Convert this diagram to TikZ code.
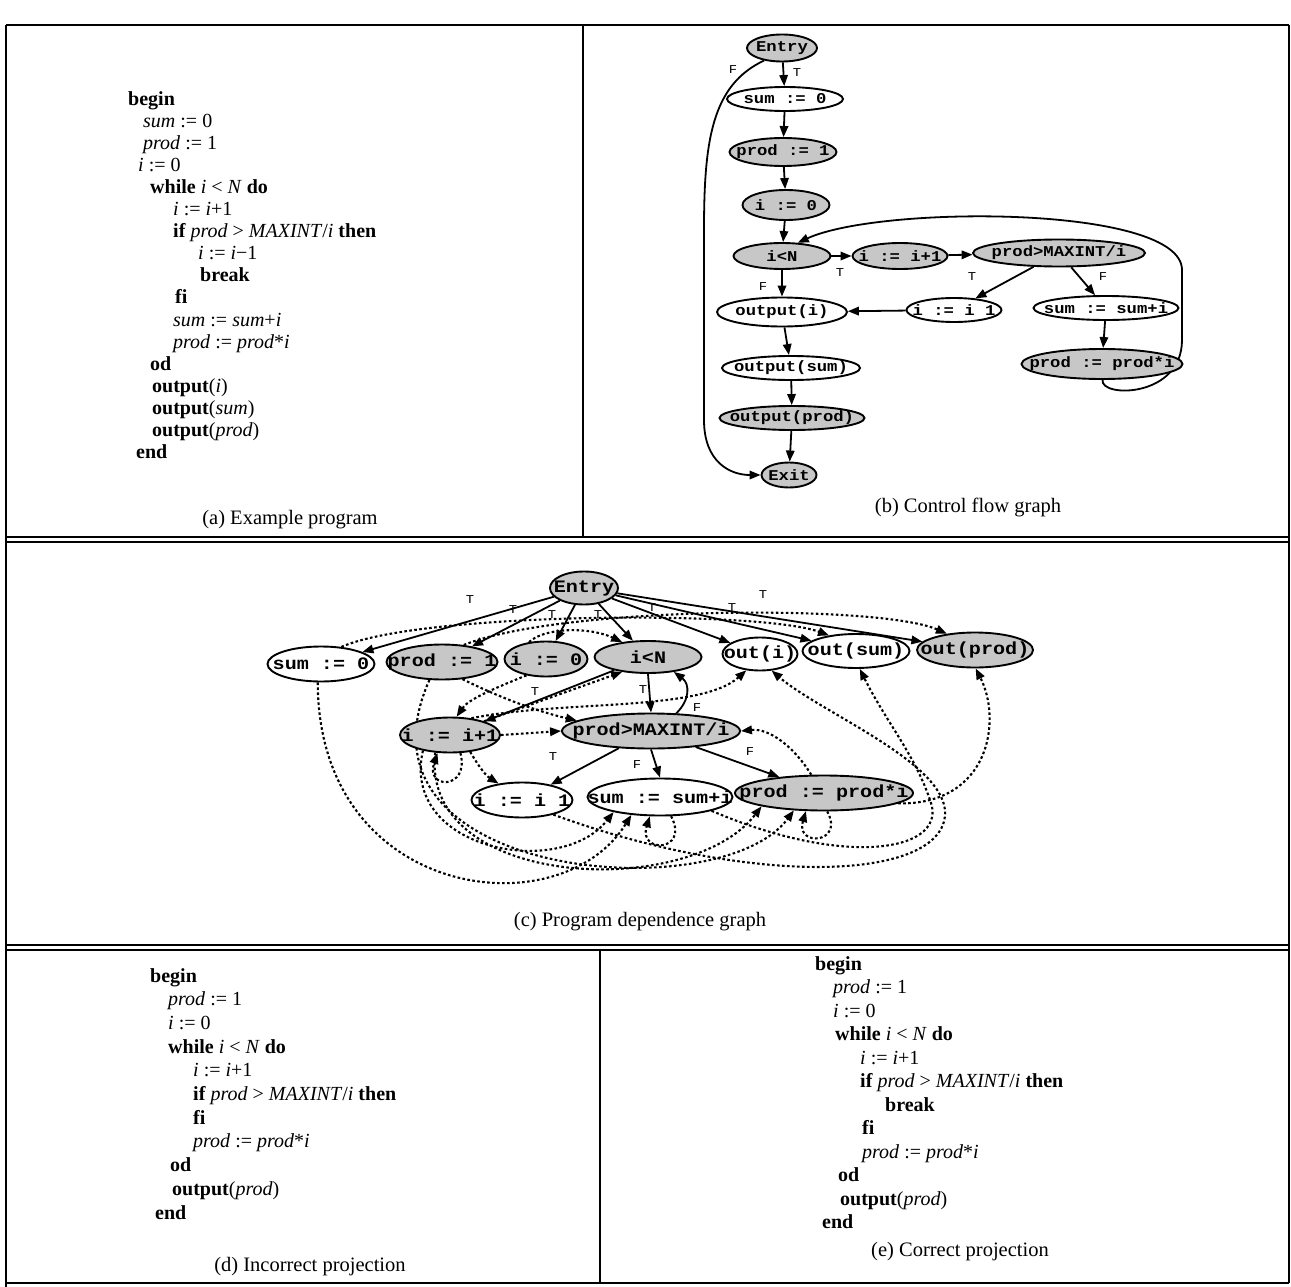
\documentclass[tikz,border=0pt]{standalone}
\usepackage{fontspec}
\setmainfont{Liberation Serif}
\newfontfamily\monof[FakeStretch=1.15]{Liberation Mono}
\usetikzlibrary{arrows.meta,shapes.geometric}
\pgfdeclarelayer{edges}
\pgfsetlayers{edges,main}
\newcommand\zw[1]{\makebox[0pt]{#1}}
\newcommand\kw[1]{\textbf{#1}}
\newcommand\va[1]{\textit{#1}}
\tikzset{
  nd/.style={ellipse, draw, line width=1.9pt, inner sep=0pt},
  shd/.style={nd, fill=black!22},
  wht/.style={nd, fill=white},
  pdgn/.style={font=\monof\bfseries\fontsize{17.5}{17.5}\selectfont},
  cfgn/.style={font=\monof\bfseries\fontsize{15}{15}\selectfont},
  ctl/.style={line width=1.8pt, -{Triangle[length=11pt,width=8.5pt]}},
  dat/.style={line width=2.1pt, dash pattern=on 2.6pt off 2.4pt, -{Triangle[length=11pt,width=8.5pt]}},
  lab/.style={font=\monof\fontsize{12}{12}\selectfont, inner sep=0pt},
  codeblk/.style={anchor=north west, inner sep=0pt, align=left},
  captxt/.style={font=\fontsize{20.5}{22}\selectfont, inner sep=0pt},
  frm/.style={line width=1.4pt},
}
\begin{document}
\begin{tikzpicture}[x=1pt,y=-1pt]
\useasboundingbox (0,0) rectangle (1291,1287);
% frame
\draw[frm] (6,25) -- (1289,25);
\draw[frm] (6,25) -- (6,1287);
\draw[frm] (1289,25) -- (1289,1283);
\draw[frm] (583,25) -- (583,537);
\draw[frm] (6,537) -- (1289,537);
\draw[frm] (6,542) -- (1289,542);
\draw[frm] (6,945) -- (1289,945);
\draw[frm] (6,950) -- (1289,950);
\draw[frm] (600,950) -- (600,1283);
\draw[frm] (6,1283) -- (1289,1283);

% (a) program
\node[codeblk, font=\fontsize{20}{22.1}\selectfont] (pa) at (128,91) {%
\kw{begin}\\
\hspace*{15pt}\va{sum} := 0\\
\hspace*{15pt}\va{prod} := 1\\
\hspace*{10pt}\va{i} := 0\\
\hspace*{22pt}\kw{while} \va{i} {<} \va{N} \kw{do}\\
\hspace*{45pt}\va{i} := \va{i}+1\\
\hspace*{45pt}\kw{if} \va{prod} {>} \va{MAXINT}/\va{i} \kw{then}\\
\hspace*{70pt}\va{i} := \va{i}−1\\
\hspace*{72pt}\kw{break}\\
\hspace*{47pt}\kw{fi}\\
\hspace*{45pt}\va{sum} := \va{sum}+\va{i}\\
\hspace*{45pt}\va{prod} := \va{prod}*\va{i}\\
\hspace*{22pt}\kw{od}\\
\hspace*{24pt}\kw{output}(\va{i})\\
\hspace*{24pt}\kw{output}(\va{sum})\\
\hspace*{24pt}\kw{output}(\va{prod})\\
\hspace*{8pt}\kw{end}};
\node[captxt] (capa) at (290,520) {(a) Example program};

% (b) control flow graph
\node[shd,cfgn,minimum width=70pt,minimum height=27pt] (cE) at (782,48) {\zw{Entry}};
\node[wht,cfgn,minimum width=116pt,minimum height=24pt] (cs0) at (785,99) {\zw{sum := 0}};
\node[shd,cfgn,minimum width=107pt,minimum height=28pt] (cp1) at (783,152) {\zw{prod := 1}};
\node[shd,cfgn,minimum width=87pt,minimum height=30pt] (ci0) at (786,205) {\zw{i := 0}};
\node[shd,cfgn,minimum width=97pt,minimum height=26pt] (ciN) at (782,256) {\zw{i<N}};
\node[shd,cfgn,minimum width=95pt,minimum height=26pt] (ci1) at (900,256) {\zw{i := i+1}};
\node[shd,cfgn,minimum width=172pt,minimum height=27pt] (cpM) at (1059,253) {\zw{prod>MAXINT/i}};
\node[wht,cfgn,minimum width=130pt,minimum height=29pt] (coi) at (782,312) {\zw{output(i)}};
\node[wht,cfgn,minimum width=95pt,minimum height=24pt] (cim) at (954,310) {\zw{i := i 1}};
\node[wht,cfgn,minimum width=145pt,minimum height=24pt] (css) at (1106,308) {\zw{sum := sum+i}};
\node[shd,cfgn,minimum width=161pt,minimum height=30pt] (cpp) at (1102,364) {\zw{prod := prod*i}};
\node[wht,cfgn,minimum width=138pt,minimum height=24pt] (cos) at (791,368) {\zw{output(sum)}};
\node[shd,cfgn,minimum width=145pt,minimum height=24pt] (cop) at (792,418) {\zw{output(prod)}};
\node[shd,cfgn,minimum width=55pt,minimum height=25pt] (cX) at (789,475) {\zw{Exit}};
\node[lab] (cl1) at (797,73) {T};
\node[lab] (cl2) at (733,70) {F};
\node[lab] (cl3) at (840,273) {T};
\node[lab] (cl4) at (763,287) {F};
\node[lab] (cl5) at (972,277) {T};
\node[lab] (cl6) at (1103,277) {F};
\node[captxt] (capb) at (968,507) {(b) Control flow graph};

% (c) program dependence graph
\node[shd,pdgn,minimum width=68pt,minimum height=33pt] (pE) at (584,588) {\zw{Entry}};
\node[wht,pdgn,minimum width=107pt,minimum height=35pt] (s0) at (321,664) {\zw{sum := 0}};
\node[shd,pdgn,minimum width=111pt,minimum height=35pt] (p1) at (442,662) {\zw{prod := 1}};
\node[shd,pdgn,minimum width=83pt,minimum height=35pt] (i0) at (546,659) {\zw{i := 0}};
\node[shd,pdgn,minimum width=107pt,minimum height=32pt] (iN) at (648,657) {\zw{i<N}};
\node[wht,pdgn,minimum width=75pt,minimum height=33pt] (oi) at (760,654) {\zw{out(i)}};
\node[wht,pdgn,minimum width=107pt,minimum height=34pt] (os) at (856,651) {\zw{out(sum)}};
\node[shd,pdgn,minimum width=116pt,minimum height=35pt] (op) at (975,650) {\zw{out(prod)}};
\node[shd,pdgn,minimum width=100pt,minimum height=35pt] (i1) at (450,735) {\zw{i := i+1}};
\node[shd,pdgn,minimum width=178pt,minimum height=35pt] (pM) at (651,731) {\zw{prod>MAXINT/i}};
\node[wht,pdgn,minimum width=101pt,minimum height=35pt] (im) at (522,800) {\zw{i := i 1}};
\node[wht,pdgn,minimum width=145pt,minimum height=37pt] (ss) at (660,797) {\zw{sum := sum+i}};
\node[shd,pdgn,minimum width=178pt,minimum height=35pt] (pp) at (824,793) {\zw{prod := prod*i}};
\node[lab] (t1) at (470,600) {T};
\node[lab] (t2) at (513,610) {T};
\node[lab] (t3) at (552,615) {T};
\node[lab] (t4) at (598,615) {T};
\node[lab] (t5) at (652,608) {T};
\node[lab] (t6) at (732,608) {T};
\node[lab] (t7) at (763,595) {T};
\node[lab] (t8) at (535,692) {T};
\node[lab] (t9) at (643,690) {T};
\node[lab] (t10) at (697,708) {F};
\node[lab] (t11) at (553,757) {T};
\node[lab] (t12) at (637,765) {F};
\node[lab] (t13) at (750,752) {F};
\node[captxt] (capc) at (640,922) {(c) Program dependence graph};

% (d) incorrect projection
\node[codeblk, font=\fontsize{20}{23.7}\selectfont] (pd) at (150,968) {%
\kw{begin}\\
\hspace*{18pt}\va{prod} := 1\\
\hspace*{18pt}\va{i} := 0\\
\hspace*{18pt}\kw{while} \va{i} {<} \va{N} \kw{do}\\
\hspace*{43pt}\va{i} := \va{i}+1\\
\hspace*{43pt}\kw{if} \va{prod} {>} \va{MAXINT}/\va{i} \kw{then}\\
\hspace*{43pt}\kw{fi}\\
\hspace*{43pt}\va{prod} := \va{prod}*\va{i}\\
\hspace*{20pt}\kw{od}\\
\hspace*{22pt}\kw{output}(\va{prod})\\
\hspace*{5pt}\kw{end}};
\node[captxt] (capd) at (310,1267) {(d) Incorrect projection};

% (e) correct projection
\node[codeblk, font=\fontsize{20}{23.5}\selectfont] (pe) at (815,956) {%
\kw{begin}\\
\hspace*{18pt}\va{prod} := 1\\
\hspace*{18pt}\va{i} := 0\\
\hspace*{20pt}\kw{while} \va{i} {<} \va{N} \kw{do}\\
\hspace*{45pt}\va{i} := \va{i}+1\\
\hspace*{45pt}\kw{if} \va{prod} {>} \va{MAXINT}/\va{i} \kw{then}\\
\hspace*{70pt}\kw{break}\\
\hspace*{47pt}\kw{fi}\\
\hspace*{47pt}\va{prod} := \va{prod}*\va{i}\\
\hspace*{23pt}\kw{od}\\
\hspace*{25pt}\kw{output}(\va{prod})\\
\hspace*{7pt}\kw{end}};
\node[captxt] (cape) at (960,1252) {(e) Correct projection};

\begin{pgfonlayer}{edges}
% CFG edges
\draw[ctl] (cE) -- (cs0);
\draw[ctl] (cs0) -- (cp1);
\draw[ctl] (cp1) -- (ci0);
\draw[ctl] (ci0) -- (ciN);
\draw[ctl] (ciN) -- (ci1);
\draw[ctl] (ci1) -- (cpM);
\draw[ctl] (cpM) -- (cim);
\draw[ctl] (cpM) -- (css);
\draw[ctl] (css) -- (cpp);
\draw[ctl] (cim) -- (coi);
\draw[ctl] (ciN) -- (coi);
\draw[ctl] (coi) -- (cos);
\draw[ctl] (cos) -- (cop);
\draw[ctl] (cop) -- (cX);
\draw[ctl] (cE.-145) .. controls (712,85) and (704,140) .. (704,230) -- (704,420) .. controls (704,462) and (730,475) .. (cX.west);
\draw[ctl] (cpp.-88) .. controls (1100,398) and (1182,398) .. (1182,340) -- (1182,270) .. controls (1182,205) and (880,205) .. (ciN.40);

% PDG control edges
\draw[ctl] (pE) -- (s0);
\draw[ctl] (pE) -- (p1);
\draw[ctl] (pE) -- (i0);
\draw[ctl] (pE) -- (iN);
\draw[ctl] (pE) -- (oi);
\draw[ctl] (pE) -- (os);
\draw[ctl] (pE) -- (op);
\draw[ctl] (iN) -- (i1);
\draw[ctl] (iN.south) -- (pM.north);
\draw[ctl] (pM.35) .. controls (690,700) and (690,684) .. (iN.-30);
\draw[ctl] (pM) -- (im);
\draw[ctl] (pM.south) -- (ss.north);
\draw[ctl] (pM) -- (pp);

% PDG data edges
\draw[dat] (s0.40) .. controls (420,612) and (760,610) .. (os.150);
\draw[dat] (p1.38) .. controls (560,606) and (880,604) .. (op.150);
\draw[dat] (i0.135) .. controls (545,627) and (590,627) .. (iN.150);
\draw[dat] (i0.-140) .. controls (490,690) and (468,700) .. (i1.70);
\draw[dat] (i1.22) -- (iN.-150);
\draw[dat] (i1.38) .. controls (560,700) and (700,712) .. (oi.-130);
\draw[dat] (i1.east) -- (pM.west);
\draw[dat] (p1.-40) .. controls (505,700) and (540,712) .. (pM.172);
\draw[dat] (i1.-40) .. controls (478,765) and (485,775) .. (im.145);
\draw[dat] (i1.-60) .. controls (470,790) and (425,790) .. (i1.-125);
\draw[dat] (ss.-60) .. controls (690,852) and (638,854) .. (ss.-118);
\draw[dat] (pp.-80) .. controls (845,844) and (795,847) .. (pp.-135);
\draw[dat] (pp.125) .. controls (795,748) and (770,728) .. (pM.east);
\draw[dat] (pp.-8) .. controls (990,805) and (1002,720) .. (op.-88);
\draw[dat] (ss.-15) .. controls (850,870) and (950,850) .. (930,800) .. controls (915,755) and (885,720) .. (os.-78);
\draw[dat] (im.-25) .. controls (760,890) and (950,880) .. (945,810) .. controls (940,760) and (820,712) .. (oi.-55);
\draw[dat] (s0.-100) .. controls (318,900) and (560,930) .. (ss.-148);
\draw[dat] (i1.-150) .. controls (400,850) and (560,880) .. (ss.-162);
\draw[dat] (i1.-130) .. controls (420,890) and (690,900) .. (pp.-168);
\draw[dat] (p1.-125) .. controls (340,880) and (720,910) .. (pp.-150);
\end{pgfonlayer}
\end{tikzpicture}
\end{document}
